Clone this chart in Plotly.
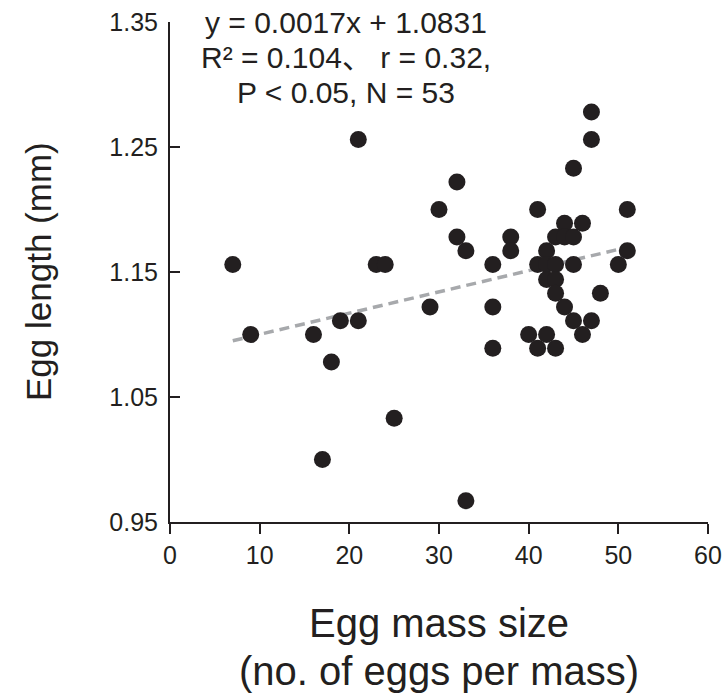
import plotly.graph_objects as go

# ---- data ----
egg_mass_size = [7, 9, 16, 17, 18, 19, 21, 21, 23, 24, 25, 29, 30, 32, 32, 33, 33,
                 36, 36, 36, 38, 38, 40, 41, 41, 41, 42, 42, 42, 42, 43, 43, 43, 43, 43,
                 44, 44, 44, 45, 45, 45, 45, 46, 46, 47, 47, 47, 48, 50, 51, 51]
egg_length = [1.156, 1.100, 1.100, 1.000, 1.078, 1.111, 1.256, 1.111, 1.156, 1.156, 1.033,
              1.122, 1.200, 1.222, 1.178, 1.167, 0.967,
              1.156, 1.122, 1.089, 1.178, 1.167, 1.100, 1.200, 1.156, 1.089,
              1.167, 1.156, 1.144, 1.100, 1.178, 1.156, 1.144, 1.133, 1.089,
              1.189, 1.178, 1.122, 1.233, 1.178, 1.156, 1.111, 1.189, 1.100,
              1.278, 1.256, 1.111, 1.133, 1.156, 1.200, 1.167]
fit_slope = 0.0017
fit_intercept = 1.0831
x_ticks = [0, 10, 20, 30, 40, 50, 60]
y_ticks = [0.95, 1.05, 1.15, 1.25, 1.35]
y_tick_labels = ["0.95", "1.05", "1.15", "1.25", "1.35"]
stat_lines = ["y = 0.0017x + 1.0831", "R² = 0.104、 r = 0.32,", "P < 0.05, N = 53"]

FONT = "Liberation Sans, Arial, Noto Sans CJK SC, sans-serif"
INK = "#231f20"

fit_x = [min(egg_mass_size), max(egg_mass_size)]
fit_y = [fit_intercept + fit_slope * v for v in fit_x]

fig = go.Figure()
fig.add_trace(go.Scatter(
    x=fit_x, y=fit_y, mode="lines",
    line=dict(color="#a7a9ac", width=3.5, dash="10px,6px"),
    hoverinfo="skip", showlegend=False))
fig.add_trace(go.Scatter(
    x=egg_mass_size, y=egg_length, mode="markers",
    marker=dict(size=17, color=INK, line=dict(width=0)),
    showlegend=False))

fig.update_layout(
    width=726, height=693,
    margin=dict(l=170, r=18, t=22, b=171, autoexpand=False),
    paper_bgcolor="white", plot_bgcolor="white",
    font=dict(family=FONT, color=INK, size=24),
    xaxis=dict(range=[0, 60], tickvals=x_ticks, showgrid=False, zeroline=False,
               automargin=False, ticklabeloverflow="allow",
               showline=True, linecolor=INK, linewidth=2,
               ticks="outside", ticklen=10, tickwidth=2, tickcolor=INK,
               tickfont=dict(size=25, family=FONT, color=INK)),
    yaxis=dict(range=[0.95, 1.35], tickvals=y_ticks, ticktext=y_tick_labels,
               showgrid=False, zeroline=False, automargin=False,
               ticklabeloverflow="allow",
               showline=True, linecolor=INK, linewidth=2,
               ticks="inside", ticklen=10, tickwidth=2, tickcolor=INK,
               ticklabelstandoff=5,
               tickfont=dict(size=25, family=FONT, color=INK)),
)

# axis titles
fig.add_annotation(text="Egg length (mm)", xref="paper", yref="paper",
                   x=0, y=0.5, xanchor="center", yanchor="middle", xshift=-132,
                   textangle=-90, showarrow=False,
                   font=dict(size=35, family=FONT, color=INK))
fig.add_annotation(text="Egg mass size", xref="paper", yref="paper",
                   x=0.5, y=0, xanchor="center", yanchor="middle", yshift=-101,
                   showarrow=False, font=dict(size=40, family=FONT, color=INK))
fig.add_annotation(text="(no. of eggs per mass)", xref="paper", yref="paper",
                   x=0.5, y=0, xanchor="center", yanchor="middle", yshift=-149,
                   showarrow=False, font=dict(size=40, family=FONT, color=INK))

# statistics text
for i, line in enumerate(stat_lines):
    fig.add_annotation(text=line, xref="paper", yref="paper",
                       x=0.327, y=1, xanchor="center", yanchor="middle",
                       yshift=0 - 35 * i, showarrow=False,
                       font=dict(size=30, family=FONT, color=INK))

# remove the page's default body margin so the figure fills the window exactly
fig.write_html("out.html",
               config={"displayModeBar": False},
               post_script="document.body.style.margin='0px';"
                           "document.body.style.overflow='hidden';")
